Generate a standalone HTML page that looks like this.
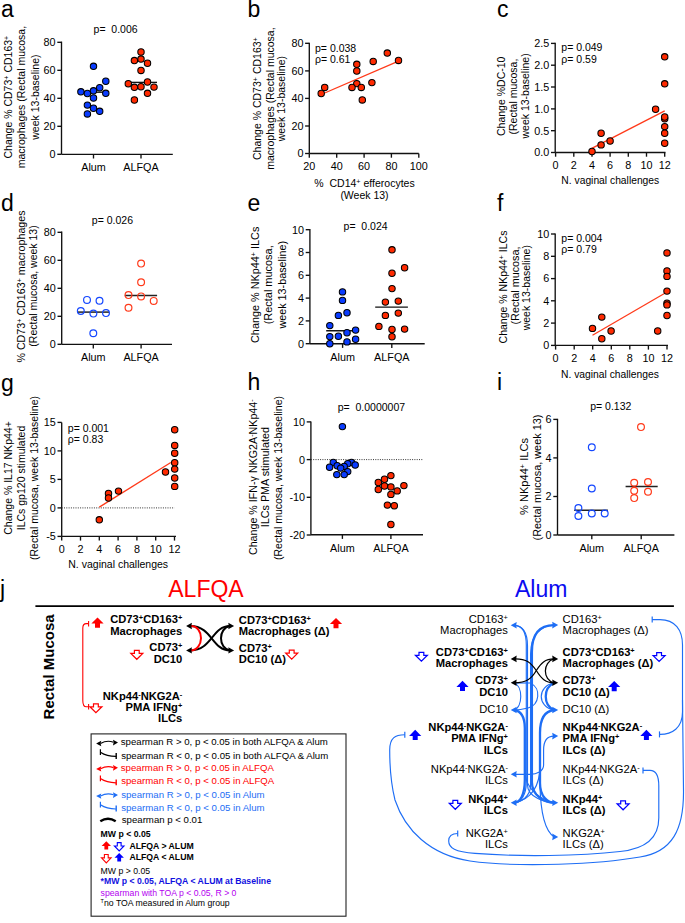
<!DOCTYPE html>
<html><head><meta charset="utf-8"><style>
html,body{margin:0;padding:0;background:#fff;width:685px;height:923px;overflow:hidden}
svg{display:block;font-family:"Liberation Sans",sans-serif}
svg text{white-space:pre}
</style></head><body>
<svg width="685" height="923" viewBox="0 0 685 923">
<rect width="685" height="923" fill="#fff"/>
<text x="1.0" y="16.6" font-size="23" text-anchor="start" font-weight="normal" fill="#000" >a</text>
<line x1="61.5" y1="41.6" x2="61.5" y2="154.3" stroke="#111" stroke-width="1.35" />
<line x1="57.3" y1="154.3" x2="61.5" y2="154.3" stroke="#111" stroke-width="1.35" />
<text x="55.6" y="158.2" font-size="10.8" text-anchor="end" font-weight="normal" fill="#000" >0</text>
<line x1="57.3" y1="126.3" x2="61.5" y2="126.3" stroke="#111" stroke-width="1.35" />
<text x="55.6" y="130.2" font-size="10.8" text-anchor="end" font-weight="normal" fill="#000" >20</text>
<line x1="57.3" y1="98.3" x2="61.5" y2="98.3" stroke="#111" stroke-width="1.35" />
<text x="55.6" y="102.2" font-size="10.8" text-anchor="end" font-weight="normal" fill="#000" >40</text>
<line x1="57.3" y1="70.3" x2="61.5" y2="70.3" stroke="#111" stroke-width="1.35" />
<text x="55.6" y="74.2" font-size="10.8" text-anchor="end" font-weight="normal" fill="#000" >60</text>
<line x1="57.3" y1="42.3" x2="61.5" y2="42.3" stroke="#111" stroke-width="1.35" />
<text x="55.6" y="46.2" font-size="10.8" text-anchor="end" font-weight="normal" fill="#000" >80</text>
<line x1="61.5" y1="154.3" x2="172.8" y2="154.3" stroke="#111" stroke-width="1.35" />
<line x1="93.5" y1="154.3" x2="93.5" y2="158.5" stroke="#111" stroke-width="1.35" />
<text x="93.5" y="170.7" font-size="10.8" text-anchor="middle" font-weight="normal" fill="#000" >Alum</text>
<line x1="141.0" y1="154.3" x2="141.0" y2="158.5" stroke="#111" stroke-width="1.35" />
<text x="141.0" y="170.7" font-size="10.8" text-anchor="middle" font-weight="normal" fill="#000" >ALFQA</text>
<text x="115.6" y="32.7" font-size="10.5" text-anchor="middle" font-weight="normal" fill="#000" >p=  0.006</text>
<text transform="translate(11.9,97.1) rotate(-90)" font-size="10.5" text-anchor="middle" font-weight="normal" fill="#000">Change % CD73<tspan baseline-shift="3.4" font-size="7.2">+</tspan> CD163<tspan baseline-shift="3.4" font-size="7.2">+</tspan></text>
<text transform="translate(25.1,97.1) rotate(-90)" font-size="10.5" text-anchor="middle" font-weight="normal" fill="#000">macrophages (Rectal mucosa,</text>
<text transform="translate(38.7,97.1) rotate(-90)" font-size="10.5" text-anchor="middle" font-weight="normal" fill="#000">week 13-baseline)</text>
<line x1="79.0" y1="92.2" x2="108.0" y2="92.2" stroke="#111" stroke-width="1.4" />
<line x1="128.0" y1="82.4" x2="157.0" y2="82.4" stroke="#111" stroke-width="1.4" />
<circle cx="93.5" cy="66.3" r="3.2" fill="#0a3cff" stroke="#000" stroke-width="1.05"/>
<circle cx="80.9" cy="91.8" r="3.2" fill="#0a3cff" stroke="#000" stroke-width="1.05"/>
<circle cx="87.4" cy="93.5" r="3.2" fill="#0a3cff" stroke="#000" stroke-width="1.05"/>
<circle cx="93.5" cy="90.8" r="3.2" fill="#0a3cff" stroke="#000" stroke-width="1.05"/>
<circle cx="99.7" cy="87.7" r="3.2" fill="#0a3cff" stroke="#000" stroke-width="1.05"/>
<circle cx="105.8" cy="81.2" r="3.2" fill="#0a3cff" stroke="#000" stroke-width="1.05"/>
<circle cx="105.8" cy="93.3" r="3.2" fill="#0a3cff" stroke="#000" stroke-width="1.05"/>
<circle cx="93.5" cy="98.0" r="3.2" fill="#0a3cff" stroke="#000" stroke-width="1.05"/>
<circle cx="87.4" cy="105.1" r="3.2" fill="#0a3cff" stroke="#000" stroke-width="1.05"/>
<circle cx="93.5" cy="108.2" r="3.2" fill="#0a3cff" stroke="#000" stroke-width="1.05"/>
<circle cx="99.7" cy="111.3" r="3.2" fill="#0a3cff" stroke="#000" stroke-width="1.05"/>
<circle cx="87.4" cy="113.9" r="3.2" fill="#0a3cff" stroke="#000" stroke-width="1.05"/>
<circle cx="141.0" cy="52.0" r="3.2" fill="#ff2a00" stroke="#000" stroke-width="1.05"/>
<circle cx="134.4" cy="60.6" r="3.2" fill="#ff2a00" stroke="#000" stroke-width="1.05"/>
<circle cx="141.0" cy="59.1" r="3.2" fill="#ff2a00" stroke="#000" stroke-width="1.05"/>
<circle cx="147.5" cy="63.2" r="3.2" fill="#ff2a00" stroke="#000" stroke-width="1.05"/>
<circle cx="141.0" cy="70.4" r="3.2" fill="#ff2a00" stroke="#000" stroke-width="1.05"/>
<circle cx="128.3" cy="83.7" r="3.2" fill="#ff2a00" stroke="#000" stroke-width="1.05"/>
<circle cx="134.4" cy="87.3" r="3.2" fill="#ff2a00" stroke="#000" stroke-width="1.05"/>
<circle cx="141.0" cy="86.7" r="3.2" fill="#ff2a00" stroke="#000" stroke-width="1.05"/>
<circle cx="147.5" cy="82.0" r="3.2" fill="#ff2a00" stroke="#000" stroke-width="1.05"/>
<circle cx="154.0" cy="87.1" r="3.2" fill="#ff2a00" stroke="#000" stroke-width="1.05"/>
<circle cx="147.5" cy="93.3" r="3.2" fill="#ff2a00" stroke="#000" stroke-width="1.05"/>
<circle cx="134.4" cy="100.0" r="3.2" fill="#ff2a00" stroke="#000" stroke-width="1.05"/>
<text x="247.5" y="16.8" font-size="23" text-anchor="start" font-weight="normal" fill="#000" >b</text>
<line x1="309.3" y1="42.8" x2="309.3" y2="153.5" stroke="#111" stroke-width="1.35" />
<line x1="305.1" y1="153.5" x2="309.3" y2="153.5" stroke="#111" stroke-width="1.35" />
<text x="303.4" y="157.3" font-size="10.8" text-anchor="end" font-weight="normal" fill="#000" >0</text>
<line x1="305.1" y1="126.0" x2="309.3" y2="126.0" stroke="#111" stroke-width="1.35" />
<text x="303.4" y="129.8" font-size="10.8" text-anchor="end" font-weight="normal" fill="#000" >20</text>
<line x1="305.1" y1="98.4" x2="309.3" y2="98.4" stroke="#111" stroke-width="1.35" />
<text x="303.4" y="102.3" font-size="10.8" text-anchor="end" font-weight="normal" fill="#000" >40</text>
<line x1="305.1" y1="70.9" x2="309.3" y2="70.9" stroke="#111" stroke-width="1.35" />
<text x="303.4" y="74.7" font-size="10.8" text-anchor="end" font-weight="normal" fill="#000" >60</text>
<line x1="305.1" y1="43.3" x2="309.3" y2="43.3" stroke="#111" stroke-width="1.35" />
<text x="303.4" y="47.2" font-size="10.8" text-anchor="end" font-weight="normal" fill="#000" >80</text>
<line x1="309.3" y1="153.5" x2="418.8" y2="153.5" stroke="#111" stroke-width="1.35" />
<line x1="309.3" y1="153.5" x2="309.3" y2="157.7" stroke="#111" stroke-width="1.35" />
<text x="309.3" y="170.2" font-size="10.8" text-anchor="middle" font-weight="normal" fill="#000" >20</text>
<line x1="336.7" y1="153.5" x2="336.7" y2="157.7" stroke="#111" stroke-width="1.35" />
<text x="336.7" y="170.2" font-size="10.8" text-anchor="middle" font-weight="normal" fill="#000" >40</text>
<line x1="364.1" y1="153.5" x2="364.1" y2="157.7" stroke="#111" stroke-width="1.35" />
<text x="364.1" y="170.2" font-size="10.8" text-anchor="middle" font-weight="normal" fill="#000" >60</text>
<line x1="391.4" y1="153.5" x2="391.4" y2="157.7" stroke="#111" stroke-width="1.35" />
<text x="391.4" y="170.2" font-size="10.8" text-anchor="middle" font-weight="normal" fill="#000" >80</text>
<line x1="418.8" y1="153.5" x2="418.8" y2="157.7" stroke="#111" stroke-width="1.35" />
<text x="418.8" y="170.2" font-size="10.8" text-anchor="middle" font-weight="normal" fill="#000" >100</text>
<text x="315.0" y="52.0" font-size="10.5" text-anchor="start" font-weight="normal" fill="#000" >p= 0.038</text>
<text x="315.0" y="63.4" font-size="10.5" text-anchor="start" font-weight="normal" fill="#000" >ρ= 0.61</text>
<text x="364.5" y="187.0" font-size="10.5" text-anchor="middle" font-weight="normal" fill="#000" >%  CD14<tspan baseline-shift="3.4" font-size="7.2">+</tspan> efferocytes</text>
<text x="364.5" y="198.5" font-size="10.5" text-anchor="middle" font-weight="normal" fill="#000" >(Week 13)</text>
<text transform="translate(261.4,98.6) rotate(-90)" font-size="10.5" text-anchor="middle" font-weight="normal" fill="#000">Change % CD73<tspan baseline-shift="3.4" font-size="7.2">+</tspan> CD163<tspan baseline-shift="3.4" font-size="7.2">+</tspan></text>
<text transform="translate(273.8,98.6) rotate(-90)" font-size="10.5" text-anchor="middle" font-weight="normal" fill="#000">macrophages (Rectal mucosa,</text>
<text transform="translate(285.4,98.6) rotate(-90)" font-size="10.5" text-anchor="middle" font-weight="normal" fill="#000">week 13-baseline)</text>
<line x1="321.2" y1="94.5" x2="398.5" y2="61.1" stroke="#ff3a1a" stroke-width="1.3" />
<circle cx="321.2" cy="93.5" r="3.2" fill="#ff2a00" stroke="#000" stroke-width="1.05"/>
<circle cx="324.7" cy="87.4" r="3.2" fill="#ff2a00" stroke="#000" stroke-width="1.05"/>
<circle cx="356.8" cy="64.3" r="3.2" fill="#ff2a00" stroke="#000" stroke-width="1.05"/>
<circle cx="356.8" cy="71.0" r="3.2" fill="#ff2a00" stroke="#000" stroke-width="1.05"/>
<circle cx="356.8" cy="83.6" r="3.2" fill="#ff2a00" stroke="#000" stroke-width="1.05"/>
<circle cx="352.0" cy="87.4" r="3.2" fill="#ff2a00" stroke="#000" stroke-width="1.05"/>
<circle cx="361.3" cy="87.4" r="3.2" fill="#ff2a00" stroke="#000" stroke-width="1.05"/>
<circle cx="362.3" cy="99.9" r="3.2" fill="#ff2a00" stroke="#000" stroke-width="1.05"/>
<circle cx="371.9" cy="82.6" r="3.2" fill="#ff2a00" stroke="#000" stroke-width="1.05"/>
<circle cx="373.2" cy="61.4" r="3.2" fill="#ff2a00" stroke="#000" stroke-width="1.05"/>
<circle cx="387.3" cy="53.1" r="3.2" fill="#ff2a00" stroke="#000" stroke-width="1.05"/>
<circle cx="398.5" cy="60.4" r="3.2" fill="#ff2a00" stroke="#000" stroke-width="1.05"/>
<text x="497.0" y="16.6" font-size="23" text-anchor="start" font-weight="normal" fill="#000" >c</text>
<line x1="555.2" y1="42.8" x2="555.2" y2="152.5" stroke="#111" stroke-width="1.35" />
<line x1="551.0" y1="152.5" x2="555.2" y2="152.5" stroke="#111" stroke-width="1.35" />
<text x="549.3" y="156.3" font-size="10.8" text-anchor="end" font-weight="normal" fill="#000" >0.0</text>
<line x1="551.0" y1="130.7" x2="555.2" y2="130.7" stroke="#111" stroke-width="1.35" />
<text x="549.3" y="134.5" font-size="10.8" text-anchor="end" font-weight="normal" fill="#000" >0.5</text>
<line x1="551.0" y1="108.9" x2="555.2" y2="108.9" stroke="#111" stroke-width="1.35" />
<text x="549.3" y="112.7" font-size="10.8" text-anchor="end" font-weight="normal" fill="#000" >1.0</text>
<line x1="551.0" y1="87.0" x2="555.2" y2="87.0" stroke="#111" stroke-width="1.35" />
<text x="549.3" y="90.9" font-size="10.8" text-anchor="end" font-weight="normal" fill="#000" >1.5</text>
<line x1="551.0" y1="65.2" x2="555.2" y2="65.2" stroke="#111" stroke-width="1.35" />
<text x="549.3" y="69.1" font-size="10.8" text-anchor="end" font-weight="normal" fill="#000" >2.0</text>
<line x1="551.0" y1="43.4" x2="555.2" y2="43.4" stroke="#111" stroke-width="1.35" />
<text x="549.3" y="47.3" font-size="10.8" text-anchor="end" font-weight="normal" fill="#000" >2.5</text>
<line x1="555.2" y1="152.5" x2="665.5" y2="152.5" stroke="#111" stroke-width="1.35" />
<line x1="555.6" y1="152.5" x2="555.6" y2="156.7" stroke="#111" stroke-width="1.35" />
<text x="555.6" y="169.2" font-size="10.8" text-anchor="middle" font-weight="normal" fill="#000" >0</text>
<line x1="573.8" y1="152.5" x2="573.8" y2="156.7" stroke="#111" stroke-width="1.35" />
<text x="573.8" y="169.2" font-size="10.8" text-anchor="middle" font-weight="normal" fill="#000" >2</text>
<line x1="592.0" y1="152.5" x2="592.0" y2="156.7" stroke="#111" stroke-width="1.35" />
<text x="592.0" y="169.2" font-size="10.8" text-anchor="middle" font-weight="normal" fill="#000" >4</text>
<line x1="610.1" y1="152.5" x2="610.1" y2="156.7" stroke="#111" stroke-width="1.35" />
<text x="610.1" y="169.2" font-size="10.8" text-anchor="middle" font-weight="normal" fill="#000" >6</text>
<line x1="628.3" y1="152.5" x2="628.3" y2="156.7" stroke="#111" stroke-width="1.35" />
<text x="628.3" y="169.2" font-size="10.8" text-anchor="middle" font-weight="normal" fill="#000" >8</text>
<line x1="646.5" y1="152.5" x2="646.5" y2="156.7" stroke="#111" stroke-width="1.35" />
<text x="646.5" y="169.2" font-size="10.8" text-anchor="middle" font-weight="normal" fill="#000" >10</text>
<line x1="664.7" y1="152.5" x2="664.7" y2="156.7" stroke="#111" stroke-width="1.35" />
<text x="664.7" y="169.2" font-size="10.8" text-anchor="middle" font-weight="normal" fill="#000" >12</text>
<text x="561.3" y="51.4" font-size="10.5" text-anchor="start" font-weight="normal" fill="#000" >p= 0.049</text>
<text x="561.3" y="62.6" font-size="10.5" text-anchor="start" font-weight="normal" fill="#000" >ρ= 0.59</text>
<text x="610.3" y="184.2" font-size="10.3" text-anchor="middle" font-weight="normal" fill="#000" >N. vaginal challenges</text>
<text transform="translate(504.8,96.3) rotate(-90)" font-size="10.5" text-anchor="middle" font-weight="normal" fill="#000">Change %DC-10</text>
<text transform="translate(517.4,96.6) rotate(-90)" font-size="10.5" text-anchor="middle" font-weight="normal" fill="#000">(Rectal mucosa,</text>
<text transform="translate(529.0,95.9) rotate(-90)" font-size="10.5" text-anchor="middle" font-weight="normal" fill="#000">week 13-baseline)</text>
<line x1="591.8" y1="148.4" x2="664.7" y2="110.8" stroke="#ff3a1a" stroke-width="1.3" />
<circle cx="592.0" cy="151.5" r="3.2" fill="#ff2a00" stroke="#000" stroke-width="1.05"/>
<circle cx="601.1" cy="144.9" r="3.2" fill="#ff2a00" stroke="#000" stroke-width="1.05"/>
<circle cx="601.1" cy="133.2" r="3.2" fill="#ff2a00" stroke="#000" stroke-width="1.05"/>
<circle cx="610.1" cy="141.0" r="3.2" fill="#ff2a00" stroke="#000" stroke-width="1.05"/>
<circle cx="655.6" cy="109.2" r="3.2" fill="#ff2a00" stroke="#000" stroke-width="1.05"/>
<circle cx="664.7" cy="118.8" r="3.2" fill="#ff2a00" stroke="#000" stroke-width="1.05"/>
<circle cx="664.7" cy="117.0" r="3.2" fill="#ff2a00" stroke="#000" stroke-width="1.05"/>
<circle cx="664.7" cy="126.6" r="3.2" fill="#ff2a00" stroke="#000" stroke-width="1.05"/>
<circle cx="664.7" cy="133.2" r="3.2" fill="#ff2a00" stroke="#000" stroke-width="1.05"/>
<circle cx="664.7" cy="143.2" r="3.2" fill="#ff2a00" stroke="#000" stroke-width="1.05"/>
<circle cx="664.7" cy="83.8" r="3.2" fill="#ff2a00" stroke="#000" stroke-width="1.05"/>
<circle cx="664.7" cy="56.8" r="3.2" fill="#ff2a00" stroke="#000" stroke-width="1.05"/>
<text x="1.0" y="211.0" font-size="23" text-anchor="start" font-weight="normal" fill="#000" >d</text>
<line x1="61.7" y1="231.4" x2="61.7" y2="344.3" stroke="#111" stroke-width="1.35" />
<line x1="57.5" y1="344.3" x2="61.7" y2="344.3" stroke="#111" stroke-width="1.35" />
<text x="55.8" y="348.2" font-size="10.8" text-anchor="end" font-weight="normal" fill="#000" >0</text>
<line x1="57.5" y1="316.3" x2="61.7" y2="316.3" stroke="#111" stroke-width="1.35" />
<text x="55.8" y="320.2" font-size="10.8" text-anchor="end" font-weight="normal" fill="#000" >20</text>
<line x1="57.5" y1="288.3" x2="61.7" y2="288.3" stroke="#111" stroke-width="1.35" />
<text x="55.8" y="292.2" font-size="10.8" text-anchor="end" font-weight="normal" fill="#000" >40</text>
<line x1="57.5" y1="260.3" x2="61.7" y2="260.3" stroke="#111" stroke-width="1.35" />
<text x="55.8" y="264.2" font-size="10.8" text-anchor="end" font-weight="normal" fill="#000" >60</text>
<line x1="57.5" y1="232.3" x2="61.7" y2="232.3" stroke="#111" stroke-width="1.35" />
<text x="55.8" y="236.2" font-size="10.8" text-anchor="end" font-weight="normal" fill="#000" >80</text>
<line x1="61.7" y1="344.3" x2="172.0" y2="344.3" stroke="#111" stroke-width="1.35" />
<line x1="93.3" y1="344.3" x2="93.3" y2="348.5" stroke="#111" stroke-width="1.35" />
<text x="93.3" y="360.7" font-size="10.8" text-anchor="middle" font-weight="normal" fill="#000" >Alum</text>
<line x1="141.1" y1="344.3" x2="141.1" y2="348.5" stroke="#111" stroke-width="1.35" />
<text x="141.1" y="360.7" font-size="10.8" text-anchor="middle" font-weight="normal" fill="#000" >ALFQA</text>
<text x="112.4" y="223.6" font-size="10.5" text-anchor="middle" font-weight="normal" fill="#000" >p= 0.026</text>
<text transform="translate(25.4,286.5) rotate(-90)" font-size="10.7" text-anchor="middle" font-weight="normal" fill="#000">% CD73<tspan baseline-shift="3.4" font-size="7.2">+</tspan> CD163<tspan baseline-shift="3.4" font-size="7.2">+</tspan> macrophages</text>
<text transform="translate(37.2,286.0) rotate(-90)" font-size="10.5" text-anchor="middle" font-weight="normal" fill="#000">(Rectal mucosa, week 13)</text>
<line x1="77.5" y1="312.1" x2="109.0" y2="312.1" stroke="#222" stroke-width="1.5" />
<line x1="124.8" y1="295.6" x2="157.1" y2="295.6" stroke="#222" stroke-width="1.5" />
<circle cx="87.0" cy="299.9" r="3.4" fill="none" stroke="#1447ff" stroke-width="1.2"/>
<circle cx="99.5" cy="300.8" r="3.4" fill="none" stroke="#1447ff" stroke-width="1.2"/>
<circle cx="80.8" cy="311.0" r="3.4" fill="none" stroke="#1447ff" stroke-width="1.2"/>
<circle cx="93.4" cy="313.6" r="3.4" fill="none" stroke="#1447ff" stroke-width="1.2"/>
<circle cx="106.0" cy="313.1" r="3.4" fill="none" stroke="#1447ff" stroke-width="1.2"/>
<circle cx="93.3" cy="333.2" r="3.4" fill="none" stroke="#1447ff" stroke-width="1.2"/>
<circle cx="141.1" cy="263.6" r="3.4" fill="none" stroke="#ff3a1a" stroke-width="1.2"/>
<circle cx="141.1" cy="282.2" r="3.4" fill="none" stroke="#ff3a1a" stroke-width="1.2"/>
<circle cx="128.5" cy="295.1" r="3.4" fill="none" stroke="#ff3a1a" stroke-width="1.2"/>
<circle cx="141.1" cy="296.4" r="3.4" fill="none" stroke="#ff3a1a" stroke-width="1.2"/>
<circle cx="153.7" cy="300.9" r="3.4" fill="none" stroke="#ff3a1a" stroke-width="1.2"/>
<circle cx="128.5" cy="307.7" r="3.4" fill="none" stroke="#ff3a1a" stroke-width="1.2"/>
<text x="247.5" y="211.0" font-size="23" text-anchor="start" font-weight="normal" fill="#000" >e</text>
<line x1="309.9" y1="229.0" x2="309.9" y2="343.7" stroke="#111" stroke-width="1.35" />
<line x1="305.7" y1="343.7" x2="309.9" y2="343.7" stroke="#111" stroke-width="1.35" />
<text x="304.0" y="347.6" font-size="10.8" text-anchor="end" font-weight="normal" fill="#000" >0</text>
<line x1="305.7" y1="320.9" x2="309.9" y2="320.9" stroke="#111" stroke-width="1.35" />
<text x="304.0" y="324.8" font-size="10.8" text-anchor="end" font-weight="normal" fill="#000" >2</text>
<line x1="305.7" y1="298.1" x2="309.9" y2="298.1" stroke="#111" stroke-width="1.35" />
<text x="304.0" y="301.9" font-size="10.8" text-anchor="end" font-weight="normal" fill="#000" >4</text>
<line x1="305.7" y1="275.3" x2="309.9" y2="275.3" stroke="#111" stroke-width="1.35" />
<text x="304.0" y="279.1" font-size="10.8" text-anchor="end" font-weight="normal" fill="#000" >6</text>
<line x1="305.7" y1="252.5" x2="309.9" y2="252.5" stroke="#111" stroke-width="1.35" />
<text x="304.0" y="256.4" font-size="10.8" text-anchor="end" font-weight="normal" fill="#000" >8</text>
<line x1="305.7" y1="229.7" x2="309.9" y2="229.7" stroke="#111" stroke-width="1.35" />
<text x="304.0" y="233.5" font-size="10.8" text-anchor="end" font-weight="normal" fill="#000" >10</text>
<line x1="309.9" y1="343.7" x2="424.7" y2="343.7" stroke="#111" stroke-width="1.35" />
<line x1="342.6" y1="343.7" x2="342.6" y2="347.9" stroke="#111" stroke-width="1.35" />
<text x="342.6" y="360.7" font-size="10.8" text-anchor="middle" font-weight="normal" fill="#000" >Alum</text>
<line x1="391.8" y1="343.7" x2="391.8" y2="347.9" stroke="#111" stroke-width="1.35" />
<text x="391.8" y="360.7" font-size="10.8" text-anchor="middle" font-weight="normal" fill="#000" >ALFQA</text>
<text x="365.6" y="229.5" font-size="10.5" text-anchor="middle" font-weight="normal" fill="#000" >p=  0.024</text>
<text transform="translate(259.2,284.8) rotate(-90)" font-size="10.85" text-anchor="middle" font-weight="normal" fill="#000">Change % NKp44<tspan baseline-shift="3.4" font-size="7.2">+</tspan> ILCs</text>
<text transform="translate(272.2,284.8) rotate(-90)" font-size="10.95" text-anchor="middle" font-weight="normal" fill="#000">(Rectal mucosa,</text>
<text transform="translate(285.6,284.8) rotate(-90)" font-size="10.8" text-anchor="middle" font-weight="normal" fill="#000">week 13-baseline)</text>
<line x1="326.2" y1="330.8" x2="358.7" y2="330.8" stroke="#111" stroke-width="1.4" />
<line x1="375.2" y1="307.1" x2="407.9" y2="307.1" stroke="#111" stroke-width="1.4" />
<circle cx="342.5" cy="291.9" r="3.2" fill="#0a3cff" stroke="#000" stroke-width="1.05"/>
<circle cx="342.5" cy="300.4" r="3.2" fill="#0a3cff" stroke="#000" stroke-width="1.05"/>
<circle cx="338.4" cy="315.4" r="3.2" fill="#0a3cff" stroke="#000" stroke-width="1.05"/>
<circle cx="347.0" cy="312.7" r="3.2" fill="#0a3cff" stroke="#000" stroke-width="1.05"/>
<circle cx="329.8" cy="325.6" r="3.2" fill="#0a3cff" stroke="#000" stroke-width="1.05"/>
<circle cx="329.8" cy="336.6" r="3.2" fill="#0a3cff" stroke="#000" stroke-width="1.05"/>
<circle cx="338.4" cy="336.2" r="3.2" fill="#0a3cff" stroke="#000" stroke-width="1.05"/>
<circle cx="347.0" cy="332.7" r="3.2" fill="#0a3cff" stroke="#000" stroke-width="1.05"/>
<circle cx="355.6" cy="330.1" r="3.2" fill="#0a3cff" stroke="#000" stroke-width="1.05"/>
<circle cx="329.8" cy="343.7" r="3.2" fill="#0a3cff" stroke="#000" stroke-width="1.05"/>
<circle cx="347.0" cy="341.9" r="3.2" fill="#0a3cff" stroke="#000" stroke-width="1.05"/>
<circle cx="355.6" cy="339.3" r="3.2" fill="#0a3cff" stroke="#000" stroke-width="1.05"/>
<circle cx="392.0" cy="249.8" r="3.2" fill="#ff2a00" stroke="#000" stroke-width="1.05"/>
<circle cx="404.6" cy="267.7" r="3.2" fill="#ff2a00" stroke="#000" stroke-width="1.05"/>
<circle cx="392.0" cy="273.3" r="3.2" fill="#ff2a00" stroke="#000" stroke-width="1.05"/>
<circle cx="392.0" cy="288.6" r="3.2" fill="#ff2a00" stroke="#000" stroke-width="1.05"/>
<circle cx="385.4" cy="302.1" r="3.2" fill="#ff2a00" stroke="#000" stroke-width="1.05"/>
<circle cx="398.3" cy="301.1" r="3.2" fill="#ff2a00" stroke="#000" stroke-width="1.05"/>
<circle cx="385.4" cy="315.4" r="3.2" fill="#ff2a00" stroke="#000" stroke-width="1.05"/>
<circle cx="398.3" cy="313.1" r="3.2" fill="#ff2a00" stroke="#000" stroke-width="1.05"/>
<circle cx="378.9" cy="326.4" r="3.2" fill="#ff2a00" stroke="#000" stroke-width="1.05"/>
<circle cx="392.0" cy="329.5" r="3.2" fill="#ff2a00" stroke="#000" stroke-width="1.05"/>
<circle cx="404.6" cy="329.1" r="3.2" fill="#ff2a00" stroke="#000" stroke-width="1.05"/>
<circle cx="392.0" cy="336.8" r="3.2" fill="#ff2a00" stroke="#000" stroke-width="1.05"/>
<text x="497.0" y="211.0" font-size="23" text-anchor="start" font-weight="normal" fill="#000" >f</text>
<line x1="555.2" y1="233.4" x2="555.2" y2="345.4" stroke="#111" stroke-width="1.35" />
<line x1="551.0" y1="345.4" x2="555.2" y2="345.4" stroke="#111" stroke-width="1.35" />
<text x="549.3" y="349.2" font-size="10.8" text-anchor="end" font-weight="normal" fill="#000" >0</text>
<line x1="551.0" y1="323.1" x2="555.2" y2="323.1" stroke="#111" stroke-width="1.35" />
<text x="549.3" y="327.0" font-size="10.8" text-anchor="end" font-weight="normal" fill="#000" >2</text>
<line x1="551.0" y1="300.8" x2="555.2" y2="300.8" stroke="#111" stroke-width="1.35" />
<text x="549.3" y="304.7" font-size="10.8" text-anchor="end" font-weight="normal" fill="#000" >4</text>
<line x1="551.0" y1="278.6" x2="555.2" y2="278.6" stroke="#111" stroke-width="1.35" />
<text x="549.3" y="282.4" font-size="10.8" text-anchor="end" font-weight="normal" fill="#000" >6</text>
<line x1="551.0" y1="256.3" x2="555.2" y2="256.3" stroke="#111" stroke-width="1.35" />
<text x="549.3" y="260.1" font-size="10.8" text-anchor="end" font-weight="normal" fill="#000" >8</text>
<line x1="551.0" y1="234.0" x2="555.2" y2="234.0" stroke="#111" stroke-width="1.35" />
<text x="549.3" y="237.8" font-size="10.8" text-anchor="end" font-weight="normal" fill="#000" >10</text>
<line x1="555.2" y1="345.4" x2="668.0" y2="345.4" stroke="#111" stroke-width="1.35" />
<line x1="555.6" y1="345.4" x2="555.6" y2="349.6" stroke="#111" stroke-width="1.35" />
<text x="555.6" y="362.1" font-size="10.8" text-anchor="middle" font-weight="normal" fill="#000" >0</text>
<line x1="574.2" y1="345.4" x2="574.2" y2="349.6" stroke="#111" stroke-width="1.35" />
<text x="574.2" y="362.1" font-size="10.8" text-anchor="middle" font-weight="normal" fill="#000" >2</text>
<line x1="592.7" y1="345.4" x2="592.7" y2="349.6" stroke="#111" stroke-width="1.35" />
<text x="592.7" y="362.1" font-size="10.8" text-anchor="middle" font-weight="normal" fill="#000" >4</text>
<line x1="611.3" y1="345.4" x2="611.3" y2="349.6" stroke="#111" stroke-width="1.35" />
<text x="611.3" y="362.1" font-size="10.8" text-anchor="middle" font-weight="normal" fill="#000" >6</text>
<line x1="629.8" y1="345.4" x2="629.8" y2="349.6" stroke="#111" stroke-width="1.35" />
<text x="629.8" y="362.1" font-size="10.8" text-anchor="middle" font-weight="normal" fill="#000" >8</text>
<line x1="648.4" y1="345.4" x2="648.4" y2="349.6" stroke="#111" stroke-width="1.35" />
<text x="648.4" y="362.1" font-size="10.8" text-anchor="middle" font-weight="normal" fill="#000" >10</text>
<line x1="667.0" y1="345.4" x2="667.0" y2="349.6" stroke="#111" stroke-width="1.35" />
<text x="667.0" y="362.1" font-size="10.8" text-anchor="middle" font-weight="normal" fill="#000" >12</text>
<text x="561.3" y="242.0" font-size="10.5" text-anchor="start" font-weight="normal" fill="#000" >p= 0.004</text>
<text x="561.3" y="253.3" font-size="10.5" text-anchor="start" font-weight="normal" fill="#000" >ρ= 0.79</text>
<text x="610.0" y="377.6" font-size="10.3" text-anchor="middle" font-weight="normal" fill="#000" >N. vaginal challenges</text>
<text transform="translate(506.5,287.0) rotate(-90)" font-size="10.5" text-anchor="middle" font-weight="normal" fill="#000">Change % NKp44<tspan baseline-shift="3.4" font-size="7.2">+</tspan> ILCs</text>
<text transform="translate(518.7,285.5) rotate(-90)" font-size="10.8" text-anchor="middle" font-weight="normal" fill="#000">(Rectal mucosa,</text>
<text transform="translate(530.3,287.7) rotate(-90)" font-size="10.5" text-anchor="middle" font-weight="normal" fill="#000">week 13-baseline)</text>
<line x1="592.5" y1="335.2" x2="665.7" y2="292.8" stroke="#ff3a1a" stroke-width="1.3" />
<circle cx="592.5" cy="328.4" r="3.2" fill="#ff2a00" stroke="#000" stroke-width="1.05"/>
<circle cx="601.8" cy="317.1" r="3.2" fill="#ff2a00" stroke="#000" stroke-width="1.05"/>
<circle cx="601.8" cy="338.7" r="3.2" fill="#ff2a00" stroke="#000" stroke-width="1.05"/>
<circle cx="611.1" cy="331.0" r="3.2" fill="#ff2a00" stroke="#000" stroke-width="1.05"/>
<circle cx="657.7" cy="331.0" r="3.2" fill="#ff2a00" stroke="#000" stroke-width="1.05"/>
<circle cx="667.0" cy="252.9" r="3.2" fill="#ff2a00" stroke="#000" stroke-width="1.05"/>
<circle cx="667.0" cy="270.9" r="3.2" fill="#ff2a00" stroke="#000" stroke-width="1.05"/>
<circle cx="667.0" cy="276.4" r="3.2" fill="#ff2a00" stroke="#000" stroke-width="1.05"/>
<circle cx="667.0" cy="291.1" r="3.2" fill="#ff2a00" stroke="#000" stroke-width="1.05"/>
<circle cx="667.0" cy="303.3" r="3.2" fill="#ff2a00" stroke="#000" stroke-width="1.05"/>
<circle cx="667.0" cy="304.9" r="3.2" fill="#ff2a00" stroke="#000" stroke-width="1.05"/>
<circle cx="667.0" cy="315.5" r="3.2" fill="#ff2a00" stroke="#000" stroke-width="1.05"/>
<text x="1.0" y="391.0" font-size="23" text-anchor="start" font-weight="normal" fill="#000" >g</text>
<line x1="61.7" y1="422.5" x2="61.7" y2="536.4" stroke="#111" stroke-width="1.35" />
<line x1="57.5" y1="536.4" x2="61.7" y2="536.4" stroke="#111" stroke-width="1.35" />
<text x="55.8" y="540.2" font-size="10.8" text-anchor="end" font-weight="normal" fill="#000" >-5</text>
<line x1="57.5" y1="507.9" x2="61.7" y2="507.9" stroke="#111" stroke-width="1.35" />
<text x="55.8" y="511.8" font-size="10.8" text-anchor="end" font-weight="normal" fill="#000" >0</text>
<line x1="57.5" y1="479.4" x2="61.7" y2="479.4" stroke="#111" stroke-width="1.35" />
<text x="55.8" y="483.2" font-size="10.8" text-anchor="end" font-weight="normal" fill="#000" >5</text>
<line x1="57.5" y1="450.9" x2="61.7" y2="450.9" stroke="#111" stroke-width="1.35" />
<text x="55.8" y="454.8" font-size="10.8" text-anchor="end" font-weight="normal" fill="#000" >10</text>
<line x1="57.5" y1="422.4" x2="61.7" y2="422.4" stroke="#111" stroke-width="1.35" />
<text x="55.8" y="426.2" font-size="10.8" text-anchor="end" font-weight="normal" fill="#000" >15</text>
<line x1="61.7" y1="536.4" x2="176.0" y2="536.4" stroke="#111" stroke-width="1.35" />
<line x1="61.7" y1="536.4" x2="61.7" y2="540.6" stroke="#111" stroke-width="1.35" />
<text x="61.7" y="553.1" font-size="10.8" text-anchor="middle" font-weight="normal" fill="#000" >0</text>
<line x1="80.5" y1="536.4" x2="80.5" y2="540.6" stroke="#111" stroke-width="1.35" />
<text x="80.5" y="553.1" font-size="10.8" text-anchor="middle" font-weight="normal" fill="#000" >2</text>
<line x1="99.3" y1="536.4" x2="99.3" y2="540.6" stroke="#111" stroke-width="1.35" />
<text x="99.3" y="553.1" font-size="10.8" text-anchor="middle" font-weight="normal" fill="#000" >4</text>
<line x1="118.1" y1="536.4" x2="118.1" y2="540.6" stroke="#111" stroke-width="1.35" />
<text x="118.1" y="553.1" font-size="10.8" text-anchor="middle" font-weight="normal" fill="#000" >6</text>
<line x1="136.9" y1="536.4" x2="136.9" y2="540.6" stroke="#111" stroke-width="1.35" />
<text x="136.9" y="553.1" font-size="10.8" text-anchor="middle" font-weight="normal" fill="#000" >8</text>
<line x1="155.7" y1="536.4" x2="155.7" y2="540.6" stroke="#111" stroke-width="1.35" />
<text x="155.7" y="553.1" font-size="10.8" text-anchor="middle" font-weight="normal" fill="#000" >10</text>
<line x1="174.5" y1="536.4" x2="174.5" y2="540.6" stroke="#111" stroke-width="1.35" />
<text x="174.5" y="553.1" font-size="10.8" text-anchor="middle" font-weight="normal" fill="#000" >12</text>
<line x1="61.7" y1="507.9" x2="174.5" y2="507.9" stroke="#333" stroke-width="1.0" stroke-dasharray="1 1.3"/>
<text x="67.8" y="431.5" font-size="10.5" text-anchor="start" font-weight="normal" fill="#000" >p= 0.001</text>
<text x="67.8" y="442.8" font-size="10.5" text-anchor="start" font-weight="normal" fill="#000" >ρ= 0.83</text>
<text x="118.2" y="567.6" font-size="10.5" text-anchor="middle" font-weight="normal" fill="#000" >N. vaginal challenges</text>
<text transform="translate(11.6,478.0) rotate(-90)" font-size="10.5" text-anchor="middle" font-weight="normal" fill="#000">Change % IL17 NKp44+</text>
<text transform="translate(25.0,478.0) rotate(-90)" font-size="10.5" text-anchor="middle" font-weight="normal" fill="#000">ILCs gp120 stimulated</text>
<text transform="translate(38.4,478.0) rotate(-90)" font-size="10.5" text-anchor="middle" font-weight="normal" fill="#000">(Rectal mucosa, week 13-baseline)</text>
<line x1="99.3" y1="507.1" x2="170.8" y2="462.5" stroke="#ff3a1a" stroke-width="1.3" />
<circle cx="99.3" cy="519.8" r="3.2" fill="#ff2a00" stroke="#000" stroke-width="1.05"/>
<circle cx="108.5" cy="493.5" r="3.2" fill="#ff2a00" stroke="#000" stroke-width="1.05"/>
<circle cx="108.5" cy="498.0" r="3.2" fill="#ff2a00" stroke="#000" stroke-width="1.05"/>
<circle cx="118.5" cy="491.1" r="3.2" fill="#ff2a00" stroke="#000" stroke-width="1.05"/>
<circle cx="165.5" cy="472.0" r="3.2" fill="#ff2a00" stroke="#000" stroke-width="1.05"/>
<circle cx="174.7" cy="429.7" r="3.2" fill="#ff2a00" stroke="#000" stroke-width="1.05"/>
<circle cx="174.7" cy="445.4" r="3.2" fill="#ff2a00" stroke="#000" stroke-width="1.05"/>
<circle cx="174.7" cy="453.3" r="3.2" fill="#ff2a00" stroke="#000" stroke-width="1.05"/>
<circle cx="174.7" cy="462.8" r="3.2" fill="#ff2a00" stroke="#000" stroke-width="1.05"/>
<circle cx="174.7" cy="469.1" r="3.2" fill="#ff2a00" stroke="#000" stroke-width="1.05"/>
<circle cx="174.7" cy="478.0" r="3.2" fill="#ff2a00" stroke="#000" stroke-width="1.05"/>
<circle cx="174.7" cy="486.4" r="3.2" fill="#ff2a00" stroke="#000" stroke-width="1.05"/>
<text x="247.5" y="389.8" font-size="23" text-anchor="start" font-weight="normal" fill="#000" >h</text>
<line x1="310.9" y1="421.4" x2="310.9" y2="534.7" stroke="#111" stroke-width="1.35" />
<line x1="306.7" y1="535.0" x2="310.9" y2="535.0" stroke="#111" stroke-width="1.35" />
<text x="305.0" y="538.9" font-size="10.8" text-anchor="end" font-weight="normal" fill="#000" >-20</text>
<line x1="306.7" y1="497.3" x2="310.9" y2="497.3" stroke="#111" stroke-width="1.35" />
<text x="305.0" y="501.2" font-size="10.8" text-anchor="end" font-weight="normal" fill="#000" >-10</text>
<line x1="306.7" y1="459.6" x2="310.9" y2="459.6" stroke="#111" stroke-width="1.35" />
<text x="305.0" y="463.5" font-size="10.8" text-anchor="end" font-weight="normal" fill="#000" >0</text>
<line x1="306.7" y1="421.9" x2="310.9" y2="421.9" stroke="#111" stroke-width="1.35" />
<text x="305.0" y="425.8" font-size="10.8" text-anchor="end" font-weight="normal" fill="#000" >10</text>
<line x1="310.9" y1="534.7" x2="423.0" y2="534.7" stroke="#111" stroke-width="1.35" />
<line x1="342.4" y1="534.7" x2="342.4" y2="538.9" stroke="#111" stroke-width="1.35" />
<text x="342.4" y="551.9" font-size="10.8" text-anchor="middle" font-weight="normal" fill="#000" >Alum</text>
<line x1="390.9" y1="534.7" x2="390.9" y2="538.9" stroke="#111" stroke-width="1.35" />
<text x="390.9" y="551.9" font-size="10.8" text-anchor="middle" font-weight="normal" fill="#000" >ALFQA</text>
<line x1="310.9" y1="459.6" x2="423.0" y2="459.6" stroke="#333" stroke-width="1.0" stroke-dasharray="1 1.3"/>
<text x="371.4" y="411.4" font-size="10.5" text-anchor="middle" font-weight="normal" fill="#000" >p=  0.0000007</text>
<text transform="translate(257.0,477.2) rotate(-90)" font-size="10.7" text-anchor="middle" font-weight="normal" fill="#000">Change % IFN-γ NKG2A<tspan baseline-shift="3.4" font-size="7.2">-</tspan>NKp44<tspan baseline-shift="3.4" font-size="7.2">-</tspan></text>
<text transform="translate(268.9,477.2) rotate(-90)" font-size="10.8" text-anchor="middle" font-weight="normal" fill="#000">ILCs PMA stimulated</text>
<text transform="translate(282.4,478.0) rotate(-90)" font-size="10.5" text-anchor="middle" font-weight="normal" fill="#000">(Rectal mucosa, week 13-baseline)</text>
<circle cx="342.4" cy="426.6" r="3.2" fill="#0a3cff" stroke="#000" stroke-width="1.05"/>
<circle cx="333.3" cy="462.5" r="3.2" fill="#0a3cff" stroke="#000" stroke-width="1.05"/>
<circle cx="351.5" cy="462.5" r="3.2" fill="#0a3cff" stroke="#000" stroke-width="1.05"/>
<circle cx="347.7" cy="463.7" r="3.2" fill="#0a3cff" stroke="#000" stroke-width="1.05"/>
<circle cx="355.2" cy="465.0" r="3.2" fill="#0a3cff" stroke="#000" stroke-width="1.05"/>
<circle cx="337.2" cy="465.7" r="3.2" fill="#0a3cff" stroke="#000" stroke-width="1.05"/>
<circle cx="344.2" cy="466.4" r="3.2" fill="#0a3cff" stroke="#000" stroke-width="1.05"/>
<circle cx="329.6" cy="467.2" r="3.2" fill="#0a3cff" stroke="#000" stroke-width="1.05"/>
<circle cx="340.7" cy="468.1" r="3.2" fill="#0a3cff" stroke="#000" stroke-width="1.05"/>
<circle cx="347.7" cy="471.6" r="3.2" fill="#0a3cff" stroke="#000" stroke-width="1.05"/>
<circle cx="336.8" cy="474.6" r="3.2" fill="#0a3cff" stroke="#000" stroke-width="1.05"/>
<circle cx="344.2" cy="474.6" r="3.2" fill="#0a3cff" stroke="#000" stroke-width="1.05"/>
<circle cx="390.9" cy="475.6" r="3.2" fill="#ff2a00" stroke="#000" stroke-width="1.05"/>
<circle cx="384.5" cy="479.2" r="3.2" fill="#ff2a00" stroke="#000" stroke-width="1.05"/>
<circle cx="378.3" cy="482.5" r="3.2" fill="#ff2a00" stroke="#000" stroke-width="1.05"/>
<circle cx="384.5" cy="486.0" r="3.2" fill="#ff2a00" stroke="#000" stroke-width="1.05"/>
<circle cx="390.9" cy="486.9" r="3.2" fill="#ff2a00" stroke="#000" stroke-width="1.05"/>
<circle cx="403.9" cy="485.6" r="3.2" fill="#ff2a00" stroke="#000" stroke-width="1.05"/>
<circle cx="378.3" cy="489.5" r="3.2" fill="#ff2a00" stroke="#000" stroke-width="1.05"/>
<circle cx="397.2" cy="490.9" r="3.2" fill="#ff2a00" stroke="#000" stroke-width="1.05"/>
<circle cx="390.9" cy="494.4" r="3.2" fill="#ff2a00" stroke="#000" stroke-width="1.05"/>
<circle cx="387.4" cy="505.1" r="3.2" fill="#ff2a00" stroke="#000" stroke-width="1.05"/>
<circle cx="394.3" cy="505.8" r="3.2" fill="#ff2a00" stroke="#000" stroke-width="1.05"/>
<circle cx="390.9" cy="524.5" r="3.2" fill="#ff2a00" stroke="#000" stroke-width="1.05"/>
<text x="497.0" y="389.8" font-size="23" text-anchor="start" font-weight="normal" fill="#000" >i</text>
<line x1="557.5" y1="418.8" x2="557.5" y2="535.0" stroke="#111" stroke-width="1.35" />
<line x1="553.3" y1="535.0" x2="557.5" y2="535.0" stroke="#111" stroke-width="1.35" />
<text x="551.6" y="538.9" font-size="10.8" text-anchor="end" font-weight="normal" fill="#000" >0</text>
<line x1="553.3" y1="496.5" x2="557.5" y2="496.5" stroke="#111" stroke-width="1.35" />
<text x="551.6" y="500.3" font-size="10.8" text-anchor="end" font-weight="normal" fill="#000" >2</text>
<line x1="553.3" y1="457.9" x2="557.5" y2="457.9" stroke="#111" stroke-width="1.35" />
<text x="551.6" y="461.8" font-size="10.8" text-anchor="end" font-weight="normal" fill="#000" >4</text>
<line x1="553.3" y1="419.4" x2="557.5" y2="419.4" stroke="#111" stroke-width="1.35" />
<text x="551.6" y="423.2" font-size="10.8" text-anchor="end" font-weight="normal" fill="#000" >6</text>
<line x1="557.5" y1="535.0" x2="674.4" y2="535.0" stroke="#111" stroke-width="1.35" />
<line x1="591.8" y1="535.0" x2="591.8" y2="539.2" stroke="#111" stroke-width="1.35" />
<text x="591.8" y="551.9" font-size="10.8" text-anchor="middle" font-weight="normal" fill="#000" >Alum</text>
<line x1="641.2" y1="535.0" x2="641.2" y2="539.2" stroke="#111" stroke-width="1.35" />
<text x="641.2" y="551.9" font-size="10.8" text-anchor="middle" font-weight="normal" fill="#000" >ALFQA</text>
<text x="610.8" y="409.8" font-size="10.5" text-anchor="middle" font-weight="normal" fill="#000" >p= 0.132</text>
<text transform="translate(528.0,476.5) rotate(-90)" font-size="11.1" text-anchor="middle" font-weight="normal" fill="#000">% NKp44<tspan baseline-shift="3.4" font-size="7.2">+</tspan> ILCs</text>
<text transform="translate(541.0,477.5) rotate(-90)" font-size="10.9" text-anchor="middle" font-weight="normal" fill="#000">(Rectal mucosa, week 13)</text>
<line x1="574.2" y1="510.3" x2="607.9" y2="510.3" stroke="#222" stroke-width="1.5" />
<line x1="625.6" y1="486.5" x2="657.7" y2="486.5" stroke="#222" stroke-width="1.5" />
<circle cx="591.8" cy="447.3" r="3.4" fill="none" stroke="#1447ff" stroke-width="1.2"/>
<circle cx="591.8" cy="488.5" r="3.4" fill="none" stroke="#1447ff" stroke-width="1.2"/>
<circle cx="578.4" cy="508.0" r="3.4" fill="none" stroke="#1447ff" stroke-width="1.2"/>
<circle cx="578.4" cy="516.0" r="3.4" fill="none" stroke="#1447ff" stroke-width="1.2"/>
<circle cx="591.8" cy="513.5" r="3.4" fill="none" stroke="#1447ff" stroke-width="1.2"/>
<circle cx="604.7" cy="513.5" r="3.4" fill="none" stroke="#1447ff" stroke-width="1.2"/>
<circle cx="641.0" cy="427.1" r="3.4" fill="none" stroke="#ff3a1a" stroke-width="1.2"/>
<circle cx="634.2" cy="482.7" r="3.4" fill="none" stroke="#ff3a1a" stroke-width="1.2"/>
<circle cx="648.0" cy="482.0" r="3.4" fill="none" stroke="#ff3a1a" stroke-width="1.2"/>
<circle cx="634.2" cy="490.7" r="3.4" fill="none" stroke="#ff3a1a" stroke-width="1.2"/>
<circle cx="648.0" cy="491.7" r="3.4" fill="none" stroke="#ff3a1a" stroke-width="1.2"/>
<circle cx="634.2" cy="498.1" r="3.4" fill="none" stroke="#ff3a1a" stroke-width="1.2"/>
<text x="0.0" y="597.0" font-size="23" text-anchor="start" font-weight="normal" fill="#000" >j</text>
<line x1="35.4" y1="606.1" x2="673.9" y2="606.1" stroke="#000" stroke-width="1.9" />
<text x="206.0" y="596.8" font-size="23" text-anchor="middle" font-weight="normal" fill="#ff0000" >ALFQA</text>
<text x="541.2" y="596.9" font-size="23" text-anchor="middle" font-weight="normal" fill="#0b0bf0" >Alum</text>
<text transform="translate(54.2,666.9) rotate(-90)" font-size="15" text-anchor="middle" font-weight="bold" fill="#000">Rectal Mucosa</text>
<text x="182.3" y="623.4" font-size="11.2" text-anchor="end" font-weight="bold" fill="#000" >CD73<tspan baseline-shift="3.1" font-size="7.4">+</tspan>CD163<tspan baseline-shift="3.1" font-size="7.4">+</tspan></text>
<text x="182.3" y="635.0" font-size="11.2" text-anchor="end" font-weight="bold" fill="#000" >Macrophages</text>
<text x="182.3" y="651.0" font-size="11.2" text-anchor="end" font-weight="bold" fill="#000" >CD73<tspan baseline-shift="3.1" font-size="7.4">+</tspan></text>
<text x="182.3" y="662.8" font-size="11.2" text-anchor="end" font-weight="bold" fill="#000" >DC10</text>
<text x="182.3" y="699.5" font-size="11.2" text-anchor="end" font-weight="bold" fill="#000" >NKp44<tspan baseline-shift="3.1" font-size="7.4">-</tspan>NKG2A<tspan baseline-shift="3.1" font-size="7.4">-</tspan></text>
<text x="182.3" y="711.1" font-size="11.2" text-anchor="end" font-weight="bold" fill="#000" >PMA IFNg<tspan baseline-shift="3.1" font-size="7.4">+</tspan></text>
<text x="182.3" y="722.4" font-size="11.2" text-anchor="end" font-weight="bold" fill="#000" >ILCs</text>
<text x="238.8" y="623.6" font-size="11.2" text-anchor="start" font-weight="bold" fill="#000" >CD73<tspan baseline-shift="3.1" font-size="7.4">+</tspan>CD163<tspan baseline-shift="3.1" font-size="7.4">+</tspan></text>
<text x="238.8" y="635.3" font-size="11.2" text-anchor="start" font-weight="bold" fill="#000" >Macrophages (Δ)</text>
<text x="238.8" y="651.5" font-size="11.2" text-anchor="start" font-weight="bold" fill="#000" >CD73<tspan baseline-shift="3.1" font-size="7.4">+</tspan></text>
<text x="238.8" y="663.4" font-size="11.2" text-anchor="start" font-weight="bold" fill="#000" >DC10 (Δ)</text>
<polygon points="97.5,617.5 103.6,623.6 100.0,623.6 100.0,627.7 95.0,627.7 95.0,623.6 91.4,623.6" fill="#ff0000"/>
<polygon points="134.4,650.4 139.2,650.4 139.2,653.4 142.8,653.4 136.8,659.3 130.8,653.4 134.4,653.4" fill="none" stroke="#ff0000" stroke-width="1.2" stroke-linejoin="miter"/>
<polygon points="93.5,703.8 98.3,703.8 98.3,706.8 101.9,706.8 95.9,712.7 89.9,706.8 93.5,706.8" fill="none" stroke="#ff0000" stroke-width="1.2" stroke-linejoin="miter"/>
<polygon points="336.0,618.0 342.1,624.1 338.5,624.1 338.5,628.2 333.5,628.2 333.5,624.1 329.9,624.1" fill="#ff0000"/>
<polygon points="289.3,650.2 294.1,650.2 294.1,653.2 297.7,653.2 291.7,659.1 285.7,653.2 289.3,653.2" fill="none" stroke="#ff0000" stroke-width="1.2" stroke-linejoin="miter"/>
<path d="M88.6,623.6 L86.3,623.6 Q82.8,623.6 82.8,628 L82.8,700.5 Q82.8,706.8 86.3,706.8 L88.6,706.8" fill="none" stroke="#ff0000" stroke-width="1.1" />
<line x1="88.6" y1="620.9" x2="88.6" y2="626.4" stroke="#ff0000" stroke-width="1.1" />
<line x1="88.6" y1="704.0" x2="88.6" y2="709.5" stroke="#ff0000" stroke-width="1.1" />
<path d="M190.5,626 C212,626 212,650.4 230,650.4" fill="none" stroke="#000" stroke-width="2.0" />
<path d="M190.5,650.4 C212,650.4 212,626 230,626" fill="none" stroke="#000" stroke-width="2.0" />
<path d="M230,626 C218,628 218,648.4 230,650.4" fill="none" stroke="#000" stroke-width="2.0" />
<path d="M190.5,626 C205,626 204,650.4 190.5,650.4" fill="none" stroke="#ff0000" stroke-width="2.0" />
<polygon points="186.1,626.0 191.9,622.8 191.4,626.0 191.9,629.2" fill="#000"/>
<polygon points="186.1,650.4 191.9,647.2 191.4,650.4 191.9,653.6" fill="#000"/>
<polygon points="234.1,626.0 228.3,622.8 228.8,626.0 228.3,629.2" fill="#000"/>
<polygon points="234.1,650.4 228.3,647.2 228.8,650.4 228.3,653.6" fill="#000"/>
<text x="507.9" y="622.9" font-size="11.2" text-anchor="end" font-weight="normal" fill="#000" >CD163<tspan baseline-shift="3.1" font-size="7.4">+</tspan></text>
<text x="562.6" y="622.9" font-size="11.2" text-anchor="start" font-weight="normal" fill="#000" >CD163<tspan baseline-shift="3.1" font-size="7.4">+</tspan></text>
<text x="507.9" y="634.2" font-size="11.2" text-anchor="end" font-weight="normal" fill="#000" >Macrophages</text>
<text x="562.6" y="634.2" font-size="11.2" text-anchor="start" font-weight="normal" fill="#000" >Macrophages (Δ)</text>
<text x="507.9" y="655.8" font-size="11.2" text-anchor="end" font-weight="bold" fill="#000" >CD73<tspan baseline-shift="3.1" font-size="7.4">+</tspan>CD163<tspan baseline-shift="3.1" font-size="7.4">+</tspan></text>
<text x="562.6" y="655.8" font-size="11.2" text-anchor="start" font-weight="bold" fill="#000" >CD73<tspan baseline-shift="3.1" font-size="7.4">+</tspan>CD163<tspan baseline-shift="3.1" font-size="7.4">+</tspan></text>
<text x="507.9" y="667.2" font-size="11.2" text-anchor="end" font-weight="bold" fill="#000" >Macrophages</text>
<text x="562.6" y="667.2" font-size="11.2" text-anchor="start" font-weight="bold" fill="#000" >Macrophages (Δ)</text>
<text x="507.9" y="684.3" font-size="11.2" text-anchor="end" font-weight="bold" fill="#000" >CD73<tspan baseline-shift="3.1" font-size="7.4">+</tspan></text>
<text x="562.6" y="684.3" font-size="11.2" text-anchor="start" font-weight="bold" fill="#000" >CD73<tspan baseline-shift="3.1" font-size="7.4">+</tspan></text>
<text x="507.9" y="696.0" font-size="11.2" text-anchor="end" font-weight="bold" fill="#000" >DC10</text>
<text x="562.6" y="696.0" font-size="11.2" text-anchor="start" font-weight="bold" fill="#000" >DC10 (Δ)</text>
<text x="507.9" y="713.0" font-size="11.2" text-anchor="end" font-weight="normal" fill="#000" >DC10</text>
<text x="562.6" y="713.0" font-size="11.2" text-anchor="start" font-weight="normal" fill="#000" >DC10 (Δ)</text>
<text x="507.9" y="730.6" font-size="11.2" text-anchor="end" font-weight="bold" fill="#000" >NKp44<tspan baseline-shift="3.1" font-size="7.4">-</tspan>NKG2A<tspan baseline-shift="3.1" font-size="7.4">-</tspan></text>
<text x="562.6" y="730.6" font-size="11.2" text-anchor="start" font-weight="bold" fill="#000" >NKp44<tspan baseline-shift="3.1" font-size="7.4">-</tspan>NKG2A<tspan baseline-shift="3.1" font-size="7.4">-</tspan></text>
<text x="507.9" y="742.1" font-size="11.2" text-anchor="end" font-weight="bold" fill="#000" >PMA IFNg<tspan baseline-shift="3.1" font-size="7.4">+</tspan></text>
<text x="562.6" y="742.1" font-size="11.2" text-anchor="start" font-weight="bold" fill="#000" >PMA IFNg<tspan baseline-shift="3.1" font-size="7.4">+</tspan></text>
<text x="507.9" y="753.5" font-size="11.2" text-anchor="end" font-weight="bold" fill="#000" >ILCs</text>
<text x="562.6" y="753.5" font-size="11.2" text-anchor="start" font-weight="bold" fill="#000" >ILCs (Δ)</text>
<text x="507.9" y="772.5" font-size="11.2" text-anchor="end" font-weight="normal" fill="#000" >NKp44<tspan baseline-shift="3.1" font-size="7.4">-</tspan>NKG2A<tspan baseline-shift="3.1" font-size="7.4">-</tspan></text>
<text x="562.6" y="772.5" font-size="11.2" text-anchor="start" font-weight="normal" fill="#000" >NKp44<tspan baseline-shift="3.1" font-size="7.4">-</tspan>NKG2A<tspan baseline-shift="3.1" font-size="7.4">-</tspan></text>
<text x="507.9" y="783.8" font-size="11.2" text-anchor="end" font-weight="normal" fill="#000" >ILCs</text>
<text x="562.6" y="783.8" font-size="11.2" text-anchor="start" font-weight="normal" fill="#000" >ILCs (Δ)</text>
<text x="507.9" y="802.9" font-size="11.2" text-anchor="end" font-weight="bold" fill="#000" >NKp44<tspan baseline-shift="3.1" font-size="7.4">+</tspan></text>
<text x="562.6" y="802.9" font-size="11.2" text-anchor="start" font-weight="bold" fill="#000" >NKp44<tspan baseline-shift="3.1" font-size="7.4">+</tspan></text>
<text x="507.9" y="814.4" font-size="11.2" text-anchor="end" font-weight="bold" fill="#000" >ILCs</text>
<text x="562.6" y="814.4" font-size="11.2" text-anchor="start" font-weight="bold" fill="#000" >ILCs (Δ)</text>
<text x="507.9" y="836.6" font-size="11.2" text-anchor="end" font-weight="normal" fill="#000" >NKG2A<tspan baseline-shift="3.1" font-size="7.4">+</tspan></text>
<text x="562.6" y="836.6" font-size="11.2" text-anchor="start" font-weight="normal" fill="#000" >NKG2A<tspan baseline-shift="3.1" font-size="7.4">+</tspan></text>
<text x="507.9" y="848.0" font-size="11.2" text-anchor="end" font-weight="normal" fill="#000" >ILCs</text>
<text x="562.6" y="848.0" font-size="11.2" text-anchor="start" font-weight="normal" fill="#000" >ILCs (Δ)</text>
<polygon points="419.0,652.3 423.8,652.3 423.8,655.3 427.4,655.3 421.4,661.2 415.4,655.3 419.0,655.3" fill="none" stroke="#0000ff" stroke-width="1.2" stroke-linejoin="miter"/>
<polygon points="462.5,680.8 468.6,686.9 465.0,686.9 465.0,691.0 460.0,691.0 460.0,686.9 456.4,686.9" fill="#0000ff"/>
<polygon points="415.2,729.8 421.3,735.9 417.7,735.9 417.7,740.0 412.7,740.0 412.7,735.9 409.1,735.9" fill="#0000ff"/>
<polygon points="452.9,800.4 457.7,800.4 457.7,803.4 461.3,803.4 455.3,809.3 449.3,803.4 452.9,803.4" fill="none" stroke="#0000ff" stroke-width="1.2" stroke-linejoin="miter"/>
<polygon points="656.7,652.6 661.5,652.6 661.5,655.6 665.1,655.6 659.1,661.5 653.1,655.6 656.7,655.6" fill="none" stroke="#0000ff" stroke-width="1.2" stroke-linejoin="miter"/>
<polygon points="614.2,681.0 620.3,687.1 616.7,687.1 616.7,691.2 611.7,691.2 611.7,687.1 608.1,687.1" fill="#0000ff"/>
<polygon points="646.4,729.8 652.5,735.9 648.9,735.9 648.9,740.0 643.9,740.0 643.9,735.9 640.3,735.9" fill="#0000ff"/>
<polygon points="620.7,800.9 625.5,800.9 625.5,803.9 629.1,803.9 623.1,809.8 617.1,803.9 620.7,803.9" fill="none" stroke="#0000ff" stroke-width="1.2" stroke-linejoin="miter"/>
<path d="M514,625.3 C522,625.3 526.3,631 526.3,645 L526.3,782 C526.3,795 521,802.7 514,802.7" fill="none" stroke="#1e6ef5" stroke-width="1.15" />
<path d="M514,625.3 C523,625.6 527.5,632 527.5,646 L527.5,785 C527.5,797 545,802.7 554,802.7" fill="none" stroke="#1e6ef5" stroke-width="1.15" />
<path d="M554,625.1 C539,625.1 531.9,634 531.9,652 L531.9,782 C531.9,796 545,802.7 554,802.7" fill="none" stroke="#1e6ef5" stroke-width="2.3" />
<path d="M554,625.1 C540,625.6 530.6,636 530.6,654 L530.6,785 C530.6,797 520,802.7 514,802.7" fill="none" stroke="#1e6ef5" stroke-width="1.15" />
<path d="M514,683 C523,686 523,707 514,710" fill="none" stroke="#1e6ef5" stroke-width="1.15" />
<path d="M514,683 L531,683" fill="none" stroke="#1e6ef5" stroke-width="1.15" />
<path d="M531,683.5 C541,688 540,705 528,708 C522,709.5 518,710 514,710" fill="none" stroke="#1e6ef5" stroke-width="1.15" />
<path d="M554,683 C537,686 537,707 554,710" fill="none" stroke="#1e6ef5" stroke-width="1.15" />
<path d="M554,683 C543,688 543,705 554,710" fill="none" stroke="#1e6ef5" stroke-width="2.3" />
<path d="M514,710 C521,711 524.8,716 524.8,728 L524.8,780 C524.8,795 520,802.7 514,802.7" fill="none" stroke="#1e6ef5" stroke-width="2.3" />
<path d="M554,710 C545,711 540,718 540,733 L540,783 C540,797 548,802.7 554,802.7" fill="none" stroke="#1e6ef5" stroke-width="2.3" />
<path d="M554,736.1 C547,736.1 543.6,741 543.6,750 L543.6,765 C543.6,771 537,774.3 530,774.3 L514,774.3" fill="none" stroke="#1e6ef5" stroke-width="1.15" />
<path d="M540,785 C540.5,812 544,830 554,836.9" fill="none" stroke="#1e6ef5" stroke-width="1.15" />
<path d="M540,765 C540,790 528,800 514,802.7" fill="none" stroke="#1e6ef5" stroke-width="1.15" />
<path d="M524.8,770 C525,792 544,800 554,802.7" fill="none" stroke="#1e6ef5" stroke-width="1.15" />
<polygon points="510.7,625.3 516.7,622.0 516.2,625.3 516.7,628.6" fill="#1e6ef5"/>
<polygon points="510.7,710.0 516.7,706.7 516.2,710.0 516.7,713.3" fill="#1e6ef5"/>
<polygon points="510.7,774.3 516.7,771.0 516.2,774.3 516.7,777.6" fill="#1e6ef5"/>
<polygon points="510.7,802.7 516.7,799.4 516.2,802.7 516.7,806.0" fill="#1e6ef5"/>
<polygon points="558.2,625.1 552.2,621.8 552.7,625.1 552.2,628.4" fill="#1e6ef5"/>
<polygon points="558.2,710.0 552.2,706.7 552.7,710.0 552.2,713.3" fill="#1e6ef5"/>
<polygon points="558.2,736.1 552.2,732.8 552.7,736.1 552.2,739.4" fill="#1e6ef5"/>
<polygon points="558.2,802.7 552.2,799.4 552.7,802.7 552.2,806.0" fill="#1e6ef5"/>
<polygon points="558.2,836.9 552.2,833.6 552.7,836.9 552.2,840.2" fill="#1e6ef5"/>
<path d="M514,658.9 C527,658.5 531,663 536.3,670.5 C541,678 545,682.8 554,682.8" fill="none" stroke="#000" stroke-width="1.25" />
<path d="M514,682.8 C527,682.8 532,678 536.3,670.5 C541,663 545,658.9 554,658.9" fill="none" stroke="#000" stroke-width="1.25" />
<path d="M554,658.9 C542.5,662 542.5,680 554,682.8" fill="none" stroke="#000" stroke-width="1.25" />
<polygon points="510.7,658.9 516.7,655.6 516.2,658.9 516.7,662.2" fill="#000"/>
<polygon points="510.7,682.8 516.7,679.5 516.2,682.8 516.7,686.1" fill="#000"/>
<polygon points="558.2,658.9 552.2,655.6 552.7,658.9 552.2,662.2" fill="#000"/>
<polygon points="558.2,682.8 552.2,679.5 552.7,682.8 552.2,686.1" fill="#000"/>
<path d="M652.2,619.6 L660,619.6 C675,619.6 682.5,630 682.5,645 L682.5,712 C682.5,728 672,734.4 660,734.4" fill="none" stroke="#1e6ef5" stroke-width="1.15" />
<line x1="652.2" y1="616.6" x2="652.2" y2="622.6" stroke="#1e6ef5" stroke-width="1.2" />
<line x1="659.5" y1="731.4" x2="659.5" y2="737.4" stroke="#1e6ef5" stroke-width="1.2" />
<path d="M682.5,700 L683.5,790 C684,830 672,852 640,857 C600,864 520,868 470,861 C430,855 405,830 395,800 C390,780 389.7,760 389.7,750 C389.7,738 395,734.7 404.8,734.7" fill="none" stroke="#1e6ef5" stroke-width="1.15" />
<line x1="404.8" y1="731.7" x2="404.8" y2="737.7" stroke="#1e6ef5" stroke-width="1.2" />
<path d="M643,770.4 L650,770.4 C656,770.4 658.8,776 658.8,786 L658.8,818 C658.8,838 645,849 620,851.5 C580,856 520,857 475,853.4 C455,852 448.7,848 448.7,841 C448.7,836 452,833.5 457.7,833.5" fill="none" stroke="#1e6ef5" stroke-width="1.15" />
<line x1="643.0" y1="767.4" x2="643.0" y2="773.4" stroke="#1e6ef5" stroke-width="1.2" />
<line x1="457.7" y1="830.5" x2="457.7" y2="836.5" stroke="#1e6ef5" stroke-width="1.2" />
<rect x="91.1" y="733.9" width="254.9" height="182.3" fill="none" stroke="#222" stroke-width="1.1"/>
<path d="M100.5,743.4 Q107,739.8 113.5,742.2" fill="none" stroke="#000" stroke-width="1.2" />
<polygon points="96.1,743.5 101.3,740.8 100.6,743.5 101.3,746.2" fill="#000"/>
<polygon points="118.0,742.4 113.0,739.7 113.6,742.4 113.0,745.4" fill="#000"/>
<text x="120.8" y="745.3" font-size="9.65" text-anchor="start" font-weight="normal" fill="#000" >spearman R &gt; 0, p &lt; 0.05 in both ALFQA &amp; Alum</text>
<path d="M100.4,752.2 Q107,756.5 116.2,756.4" fill="none" stroke="#000" stroke-width="1.2" />
<line x1="100.4" y1="749.2" x2="100.4" y2="754.9" stroke="#000" stroke-width="1.2" />
<line x1="116.2" y1="753.0" x2="116.2" y2="758.9" stroke="#000" stroke-width="1.4" />
<text x="121.2" y="758.6" font-size="9.65" text-anchor="start" font-weight="normal" fill="#000" >spearman R &lt; 0, p &lt; 0.05 in both ALFQA &amp; Alum</text>
<path d="M100.5,768.8 Q107,765.2 113.5,767.6" fill="none" stroke="#ff0000" stroke-width="1.2" />
<polygon points="96.1,768.9 101.3,766.2 100.6,768.9 101.3,771.6" fill="#ff0000"/>
<polygon points="118.0,767.8 113.0,765.1 113.6,767.8 113.0,770.8" fill="#ff0000"/>
<text x="120.8" y="770.8" font-size="9.65" text-anchor="start" font-weight="normal" fill="#ff0000" >spearman R &gt; 0, p &lt; 0.05 in ALFQA</text>
<path d="M100.4,778.6 Q107,782.9 116.2,782.8" fill="none" stroke="#ff0000" stroke-width="1.2" />
<line x1="100.4" y1="775.6" x2="100.4" y2="781.3" stroke="#ff0000" stroke-width="1.2" />
<line x1="116.2" y1="779.4" x2="116.2" y2="785.3" stroke="#ff0000" stroke-width="1.4" />
<text x="121.2" y="784.3" font-size="9.65" text-anchor="start" font-weight="normal" fill="#ff0000" >spearman R &lt; 0, p &lt; 0.05 in ALFQA</text>
<path d="M100.5,796.0 Q107,792.4 113.5,794.8" fill="none" stroke="#1e6ef5" stroke-width="1.2" />
<polygon points="96.1,796.1 101.3,793.4 100.6,796.1 101.3,798.8" fill="#1e6ef5"/>
<polygon points="118.0,795.0 113.0,792.3 113.6,795.0 113.0,798.0" fill="#1e6ef5"/>
<text x="121.2" y="797.6" font-size="9.65" text-anchor="start" font-weight="normal" fill="#1e6ef5" >spearman R &gt; 0, p &lt; 0.05 in Alum</text>
<path d="M100.4,804.8 Q107,809.1 116.2,809.0" fill="none" stroke="#1e6ef5" stroke-width="1.2" />
<line x1="100.4" y1="801.8" x2="100.4" y2="807.5" stroke="#1e6ef5" stroke-width="1.2" />
<line x1="116.2" y1="805.6" x2="116.2" y2="811.5" stroke="#1e6ef5" stroke-width="1.4" />
<text x="121.2" y="810.8" font-size="9.65" text-anchor="start" font-weight="normal" fill="#1e6ef5" >spearman R &lt; 0, p &lt; 0.05 in Alum</text>
<path d="M100.3,821.3 Q108,816.2 115.7,821.3" fill="none" stroke="#000" stroke-width="2.4" />
<text x="121.8" y="823.2" font-size="9.65" text-anchor="start" font-weight="normal" fill="#000" >spearman p &lt; 0.01</text>
<text x="100.6" y="837.3" font-size="8.7" text-anchor="start" font-weight="bold" fill="#000" >MW p &lt; 0.05</text>
<polygon points="106.3,841.3 111.0,845.9 108.2,845.9 108.2,849.6 104.4,849.6 104.4,845.9 101.6,845.9" fill="#ff0000"/>
<polygon points="117.3,842.6 121.1,842.6 121.1,846.0 124.0,846.0 119.2,851.0 114.4,846.0 117.3,846.0" fill="none" stroke="#0000ff" stroke-width="1.1"/>
<text x="129.4" y="848.6" font-size="8.7" text-anchor="start" font-weight="bold" fill="#000" >ALFQA &gt; ALUM</text>
<polygon points="104.4,854.5 108.2,854.5 108.2,857.9 111.1,857.9 106.3,862.9 101.5,857.9 104.4,857.9" fill="none" stroke="#ff0000" stroke-width="1.1"/>
<polygon points="119.2,853.1 123.9,857.7 121.1,857.7 121.1,861.4 117.3,861.4 117.3,857.7 114.5,857.7" fill="#0000ff"/>
<text x="129.4" y="859.8" font-size="8.7" text-anchor="start" font-weight="bold" fill="#000" >ALFQA &lt; ALUM</text>
<text x="100.6" y="874.1" font-size="8.7" text-anchor="start" font-weight="normal" fill="#000" >MW p &gt; 0.05</text>
<text x="100.6" y="884.4" font-size="8.7" text-anchor="start" font-weight="bold" fill="#1010e0" >*MW p &lt; 0.05, ALFQA &lt; ALUM at Baseline</text>
<text x="100.6" y="895.6" font-size="8.7" text-anchor="start" font-weight="normal" fill="#b400f0" >spearman with TOA p &lt; 0.05, R &gt; 0</text>
<text x="100.6" y="905.8" font-size="8.7" text-anchor="start" font-weight="normal" fill="#000" ><tspan dy="-3" font-size="5.5">T</tspan><tspan dy="3">no TOA measured in Alum group</tspan></text>
</svg></body></html>
